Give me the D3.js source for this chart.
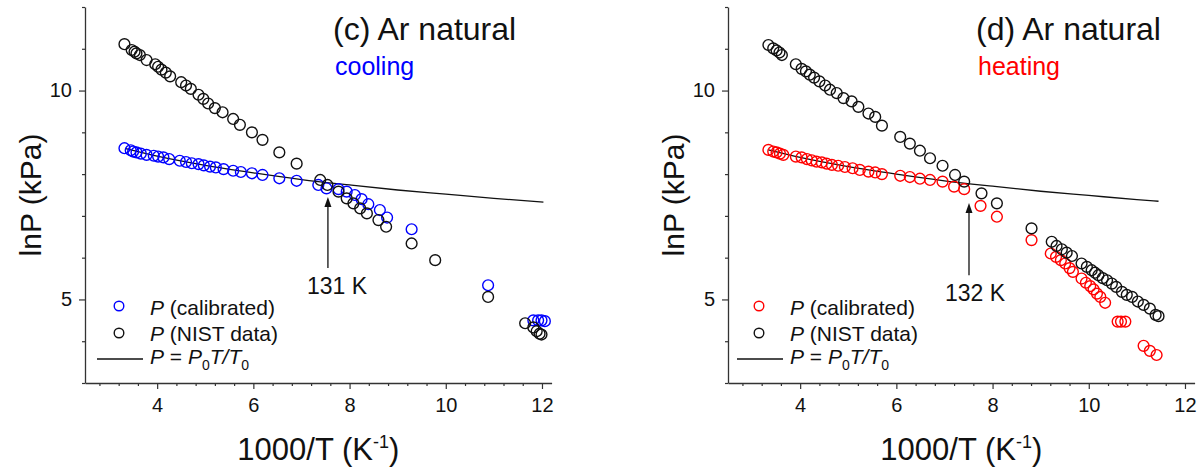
<!DOCTYPE html>
<html>
<head>
<meta charset="utf-8">
<script src="https://cdn.jsdelivr.net/npm/d3@7"></script>
<style>
  body { margin: 0; background: #fff; }
  svg { display: block; font-family: Arial, "Liberation Sans", sans-serif; }
</style>
</head>
<body>
<div id="chart"></div>
<script>
  // Axis ticks
  var xMajorTicks = [4, 6, 8, 10, 12];
  var yMajorTicks = [5, 10];

  // (c) cooling - calibrated P
  var coolCalX = [3.32, 3.45, 3.50, 3.57, 3.66, 3.78, 3.93, 4.02, 4.13, 4.25, 4.47, 4.60, 4.72, 4.86, 4.97, 5.10, 5.22, 5.38, 5.58, 5.74, 5.97, 6.19, 6.54, 6.90, 7.35, 7.52, 7.77, 7.94, 8.11, 8.25, 8.39, 8.63, 8.78, 9.29, 10.88, 11.82, 11.92, 11.99, 12.06];
  var coolCalY = [8.62, 8.57, 8.54, 8.52, 8.49, 8.46, 8.44, 8.42, 8.40, 8.36, 8.32, 8.29, 8.26, 8.24, 8.21, 8.18, 8.16, 8.12, 8.08, 8.05, 8.02, 7.98, 7.90, 7.84, 7.74, 7.66, 7.64, 7.58, 7.50, 7.40, 7.28, 7.14, 6.96, 6.68, 5.34, 4.50, 4.50, 4.50, 4.48];

  // (c) cooling - NIST data
  var coolNistX = [3.32, 3.47, 3.53, 3.57, 3.64, 3.78, 3.96, 4.02, 4.09, 4.18, 4.27, 4.50, 4.60, 4.70, 4.86, 4.96, 5.06, 5.20, 5.36, 5.58, 5.72, 5.97, 6.19, 6.54, 6.90, 7.39, 7.54, 7.77, 7.94, 8.08, 8.22, 8.36, 8.60, 8.76, 9.29, 9.78, 10.88, 11.65, 11.82, 11.89, 11.95, 11.99];
  var coolNistY = [11.11, 10.97, 10.93, 10.89, 10.85, 10.73, 10.63, 10.57, 10.50, 10.43, 10.34, 10.20, 10.12, 10.04, 9.90, 9.80, 9.69, 9.58, 9.48, 9.32, 9.18, 9.00, 8.82, 8.52, 8.25, 7.86, 7.74, 7.58, 7.42, 7.30, 7.18, 7.06, 6.90, 6.74, 6.34, 5.94, 5.06, 4.43, 4.33, 4.24, 4.18, 4.16];

  // (c) cooling - P = P0 T / T0
  var coolLineX = [3.35, 4, 5, 6, 7, 8, 9, 10, 11, 12.03];
  var coolLineY = [8.61, 8.43, 8.21, 8.03, 7.87, 7.74, 7.62, 7.52, 7.42, 7.33];

  // (d) heating - calibrated P
  var heatCalX = [3.34, 3.44, 3.51, 3.58, 3.65, 3.91, 4.03, 4.14, 4.24, 4.34, 4.45, 4.55, 4.66, 4.79, 4.93, 5.09, 5.24, 5.42, 5.56, 5.70, 6.08, 6.28, 6.49, 6.70, 6.96, 7.20, 7.41, 7.75, 8.09, 8.81, 9.21, 9.32, 9.42, 9.51, 9.60, 9.67, 9.85, 9.94, 10.03, 10.10, 10.17, 10.24, 10.34, 10.60, 10.67, 10.76, 11.14, 11.27, 11.41];
  var heatCalY = [8.58, 8.54, 8.52, 8.49, 8.46, 8.42, 8.40, 8.36, 8.33, 8.30, 8.28, 8.25, 8.22, 8.20, 8.17, 8.14, 8.10, 8.06, 8.04, 8.00, 7.96, 7.93, 7.89, 7.86, 7.82, 7.70, 7.64, 7.24, 6.98, 6.42, 6.10, 6.02, 5.94, 5.86, 5.75, 5.66, 5.50, 5.40, 5.32, 5.24, 5.14, 5.06, 4.92, 4.47, 4.47, 4.47, 3.89, 3.77, 3.67];

  // (d) heating - NIST data
  var heatNistX = [3.34, 3.44, 3.51, 3.57, 3.62, 3.91, 4.03, 4.12, 4.20, 4.29, 4.40, 4.52, 4.62, 4.76, 4.90, 5.07, 5.21, 5.42, 5.56, 5.70, 6.08, 6.28, 6.49, 6.70, 6.96, 7.22, 7.41, 7.77, 8.09, 8.81, 9.23, 9.33, 9.44, 9.54, 9.65, 9.85, 9.96, 10.06, 10.13, 10.20, 10.29, 10.38, 10.48, 10.57, 10.69, 10.79, 10.90, 11.02, 11.14, 11.27, 11.39, 11.45];
  var heatNistY = [11.09, 11.01, 10.96, 10.91, 10.85, 10.63, 10.52, 10.46, 10.38, 10.31, 10.22, 10.12, 10.02, 9.94, 9.82, 9.74, 9.61, 9.45, 9.37, 9.16, 8.89, 8.73, 8.56, 8.38, 8.20, 7.98, 7.82, 7.54, 7.30, 6.70, 6.38, 6.28, 6.20, 6.12, 6.04, 5.86, 5.78, 5.70, 5.64, 5.58, 5.51, 5.46, 5.38, 5.30, 5.18, 5.11, 5.06, 4.95, 4.87, 4.78, 4.63, 4.60];

  // (d) heating - P = P0 T / T0
  var heatLineX = [3.34, 4, 5, 6, 7, 8, 9, 10, 11, 11.45];
  var heatLineY = [8.58, 8.40, 8.18, 8.00, 7.84, 7.71, 7.59, 7.49, 7.39, 7.35];

  function zip(xs, ys) {
    return xs.map(function(x, i) { return {x: x, y: ys[i]}; });
  }

  var W = 1204, H = 472;
  var svg = d3.select("#chart").append("svg")
    .attr("width", W)
    .attr("height", H);

  var panels = [
    {left: 85, title: "(c) Ar natural", mode: "cooling", color: "#0000ff",
     cal: zip(coolCalX, coolCalY), nist: zip(coolNistX, coolNistY), line: zip(coolLineX, coolLineY),
     arrowX: 7.55, arrowTop: 7.45, arrowBottom: 5.75, arrowLabel: "131 K", labelDx: -21, legendDx: 0},
    {left: 728, title: "(d) Ar natural", mode: "heating", color: "#ff0000",
     cal: zip(heatCalX, heatCalY), nist: zip(heatNistX, heatNistY), line: zip(heatLineX, heatLineY),
     arrowX: 7.51, arrowTop: 7.31, arrowBottom: 5.58, arrowLabel: "132 K", labelDx: -24, legendDx: -3}
  ];

  var plotW = 466.6, plotTop = 7, plotBottom = 383;
  var dotR = 5.4;

  panels.forEach(function(p) {
    var x = d3.scaleLinear().domain([2.5, 12.2]).range([p.left, p.left + plotW]);
    var y = d3.scaleLinear().domain([3, 12]).range([plotBottom, plotTop]);
    var g = svg.append("g");

    // minor ticks
    var xMinor = d3.range(2.8, 12.01, 0.4).filter(function(v) {
      return xMajorTicks.indexOf(Math.round(v * 10) / 10) < 0;
    });
    var yMinor = d3.range(3, 12.01, 1).filter(function(v) { return yMajorTicks.indexOf(v) < 0; });

    g.append("g")
      .attr("transform", "translate(0," + plotBottom + ")")
      .call(d3.axisBottom(x).tickValues(xMinor).tickSize(3).tickFormat(""))
      .call(function(a) { a.select(".domain").remove(); });
    g.append("g")
      .attr("transform", "translate(" + p.left + ",0)")
      .call(d3.axisLeft(y).tickValues(yMinor).tickSize(3).tickFormat(""))
      .call(function(a) { a.select(".domain").remove(); });

    // major axes
    var xAxis = g.append("g")
      .attr("transform", "translate(0," + plotBottom + ")")
      .call(d3.axisBottom(x).tickValues(xMajorTicks).tickSize(6).tickSizeOuter(0).tickPadding(9));
    var yAxis = g.append("g")
      .attr("transform", "translate(" + p.left + ",0)")
      .call(d3.axisLeft(y).tickValues(yMajorTicks).tickSize(6).tickSizeOuter(0).tickPadding(7));

    [xAxis, yAxis].forEach(function(a) {
      a.attr("font-size", null).attr("font-family", null);
      a.selectAll("text").style("font-size", "20px").attr("fill", "#111");
      a.select(".domain").attr("stroke", "#333").attr("stroke-width", 1.3);
    });
    g.selectAll(".tick line").attr("stroke", "#333").attr("stroke-width", 1.2);

    // axis titles
    var xt = g.append("text")
      .attr("x", p.left + plotW / 2)
      .attr("y", 460)
      .attr("text-anchor", "middle")
      .style("font-size", "31px")
      .attr("fill", "#111");
    xt.append("tspan").text("1000/T (K");
    xt.append("tspan").attr("dy", -12).style("font-size", "18px").text("-1");
    xt.append("tspan").attr("dy", 12).text(")");

    g.append("text")
      .attr("transform", "translate(" + (p.left - 44) + "," + ((plotTop + plotBottom) / 2) + ") rotate(-90)")
      .attr("text-anchor", "middle")
      .style("font-size", "30px")
      .attr("fill", "#111")
      .text("lnP (kPa)");

    // titles
    g.append("text")
      .attr("x", p.left + 248)
      .attr("y", 40)
      .style("font-size", "32px")
      .attr("fill", "#111")
      .text(p.title);
    g.append("text")
      .attr("x", p.left + 250)
      .attr("y", 75)
      .style("font-size", "25px")
      .attr("fill", p.color)
      .text(p.mode);

    // P = P0T/T0 line
    var line = d3.line()
      .x(function(d) { return x(d.x); })
      .y(function(d) { return y(d.y); })
      .curve(d3.curveMonotoneX);
    g.append("path")
      .datum(p.line)
      .attr("d", line)
      .attr("fill", "none")
      .attr("stroke", "#111")
      .attr("stroke-width", 1.3);

    // calibrated then NIST circles
    g.append("g").selectAll("circle")
      .data(p.cal)
      .enter()
      .append("circle")
      .attr("cx", function(d) { return x(d.x); })
      .attr("cy", function(d) { return y(d.y); })
      .attr("r", dotR)
      .attr("fill", "none")
      .attr("stroke", p.color)
      .attr("stroke-width", 1.4);

    g.append("g").selectAll("circle")
      .data(p.nist)
      .enter()
      .append("circle")
      .attr("cx", function(d) { return x(d.x); })
      .attr("cy", function(d) { return y(d.y); })
      .attr("r", dotR)
      .attr("fill", "none")
      .attr("stroke", "#111")
      .attr("stroke-width", 1.4);

    // arrow annotation
    var ax = x(p.arrowX), at = y(p.arrowTop), ab = y(p.arrowBottom);
    g.append("line")
      .attr("x1", ax).attr("x2", ax)
      .attr("y1", at + 6).attr("y2", ab)
      .attr("stroke", "#111")
      .attr("stroke-width", 1.3);
    g.append("path")
      .attr("d", "M" + ax + "," + at + "L" + (ax - 3.5) + "," + (at + 10) + "L" + (ax + 3.5) + "," + (at + 10) + "Z")
      .attr("fill", "#111");
    g.append("text")
      .attr("x", ax + p.labelDx)
      .attr("y", ab + 26)
      .style("font-size", "23px")
      .attr("fill", "#111")
      .text(p.arrowLabel);

    // legend
    var lx = p.left + p.legendDx;
    var leg = g.append("g");
    leg.append("circle")
      .attr("cx", lx + 34).attr("cy", 306).attr("r", 4.8)
      .attr("fill", "none").attr("stroke", p.color).attr("stroke-width", 1.4);
    leg.append("circle")
      .attr("cx", lx + 34).attr("cy", 333).attr("r", 4.8)
      .attr("fill", "none").attr("stroke", "#111").attr("stroke-width", 1.4);
    leg.append("line")
      .attr("x1", lx + 12).attr("x2", lx + 58)
      .attr("y1", 359).attr("y2", 359)
      .attr("stroke", "#111").attr("stroke-width", 1.3);

    var t1 = leg.append("text").attr("x", lx + 65).attr("y", 315).style("font-size", "21px").attr("fill", "#111");
    t1.append("tspan").style("font-style", "italic").text("P");
    t1.append("tspan").text(" (calibrated)");
    var t2 = leg.append("text").attr("x", lx + 65).attr("y", 341).style("font-size", "21px").attr("fill", "#111");
    t2.append("tspan").style("font-style", "italic").text("P");
    t2.append("tspan").text(" (NIST data)");
    var t3 = leg.append("text").attr("x", lx + 65).attr("y", 364).style("font-size", "21px").attr("fill", "#111");
    t3.append("tspan").style("font-style", "italic").text("P");
    t3.append("tspan").text(" = ");
    t3.append("tspan").style("font-style", "italic").text("P");
    t3.append("tspan").attr("dy", 6).style("font-size", "14px").text("0");
    t3.append("tspan").attr("dy", -6).style("font-style", "italic").text("T/T");
    t3.append("tspan").attr("dy", 6).style("font-size", "14px").text("0");
  });
</script>
</body>
</html>
